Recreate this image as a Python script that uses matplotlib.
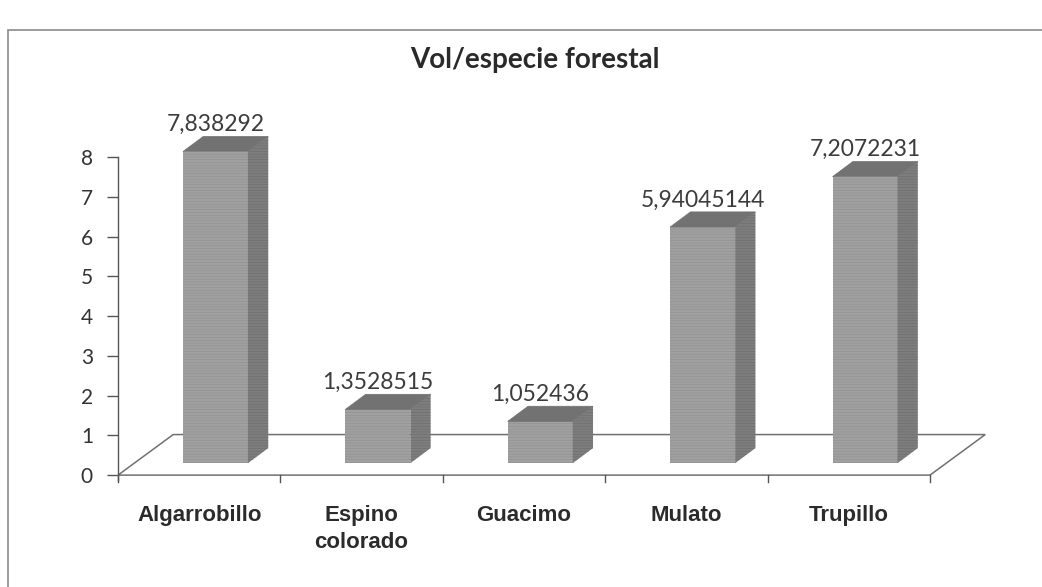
import matplotlib
matplotlib.use("Agg")
import matplotlib.pyplot as plt
from matplotlib.patches import Polygon, Rectangle

# data
especies = ["Algarrobillo", "Espino\ncolorado", "Guacimo", "Mulato", "Trupillo"]
volumen = [7.838292, 1.3528515, 1.052436, 5.94045144, 7.2072231]
etiquetas = ["7,838292", "1,3528515", "1,052436", "5,94045144", "7,2072231"]
yticks = [0, 1, 2, 3, 4, 5, 6, 7, 8]

# fake 3D geometry (data units: category / value)
floor_left, floor_right = -0.5, 4.5
floor_dx, floor_dy = 0.34, 1.02
bar_off, bar_w = -0.1, 0.40
bar_lift = 0.3
side_dx, side_dy = 0.125, 0.38

plt.rcParams['hatch.linewidth'] = 0.4

fig = plt.figure(figsize=(10.42, 5.87), dpi=100)
fig.patch.set_facecolor('white')

# outer chart frame (cut off on the right/bottom in the scan)
fig.patches.append(Rectangle((8/1042, -0.05), 1.1, 1 - 30/587 + 0.05,
                             transform=fig.transFigure, fill=False,
                             edgecolor='#8a8a8a', linewidth=1.2))

ax = fig.add_axes([118/1042, 1 - 495/587, (1000 - 118)/1042, (495 - 97.4)/587])
ax.set_xlim(floor_left, floor_left + (1000 - 118)/162.4)
ax.set_ylim(-0.5, 9.5)
ax.patch.set_alpha(0)

# floor
floor = Polygon([(floor_left, 0), (floor_right, 0),
                 (floor_right + floor_dx, floor_dy), (floor_left + floor_dx, floor_dy)],
                closed=True, facecolor='white', edgecolor='#707070', linewidth=1.1)
ax.add_patch(floor)

for i, (v, lab) in enumerate(zip(volumen, etiquetas)):
    x0 = i + bar_off
    x1 = x0 + bar_w
    y0 = bar_lift
    y1 = bar_lift + v
    front = Polygon([(x0, y0), (x1, y0), (x1, y1), (x0, y1)],
                    facecolor='#a0a0a0', edgecolor='#8f8f8f', hatch='------', linewidth=0)
    side = Polygon([(x1, y0), (x1 + side_dx, y0 + side_dy),
                    (x1 + side_dx, y1 + side_dy), (x1, y1)],
                   facecolor='#7d7d7d', edgecolor='#6c6c6c', hatch='------', linewidth=0)
    top = Polygon([(x0, y1), (x1, y1), (x1 + side_dx, y1 + side_dy), (x0 + side_dx, y1 + side_dy)],
                  facecolor='#727272', edgecolor='#727272', linewidth=0.5)
    for p in (front, side, top):
        ax.add_patch(p)
    ax.text(x0 + bar_w/2, y1 + side_dy + 0.03, lab,
            ha='center', va='bottom', fontsize=16.5, color='#3c3c3c', family='Lato')

# category axis: ticks on the front edge of the floor
tick_x = [floor_left + k for k in range(len(especies) + 1)]
for tx in tick_x:
    ax.plot([tx, tx], [0, -0.18], color='#555555', linewidth=1.0, clip_on=False)

for i, name in enumerate(especies):
    ax.text(i, -0.76, name, ha='center', va='top', fontsize=16, fontweight='bold',
            fontstretch='condensed', color='#2b2b2b',
            family=['Liberation Sans Narrow', 'Liberation Sans'],
            linespacing=1.35)

# value axis
for s in ('top', 'right', 'bottom'):
    ax.spines[s].set_visible(False)
ax.spines['left'].set_position(('data', floor_left))
ax.spines['left'].set_bounds(-0.12, 8)
ax.spines['left'].set_color('#555555')
ax.spines['left'].set_linewidth(1.0)
ax.set_yticks(yticks)
ax.set_yticklabels([str(t) for t in yticks], fontsize=15, color='#333333', family='Lato')
ax.tick_params(axis='y', direction='out', length=8, width=1.0, color='#555555', pad=10)
ax.set_xticks([])

fig.text(535/1042, 1 - 60/587, "Vol/especie forestal", ha='center', va='center',
         fontsize=20, fontweight='bold', color='#2a2a2a', family='Lato')

fig.savefig("out.png", dpi=100, facecolor=fig.get_facecolor())
